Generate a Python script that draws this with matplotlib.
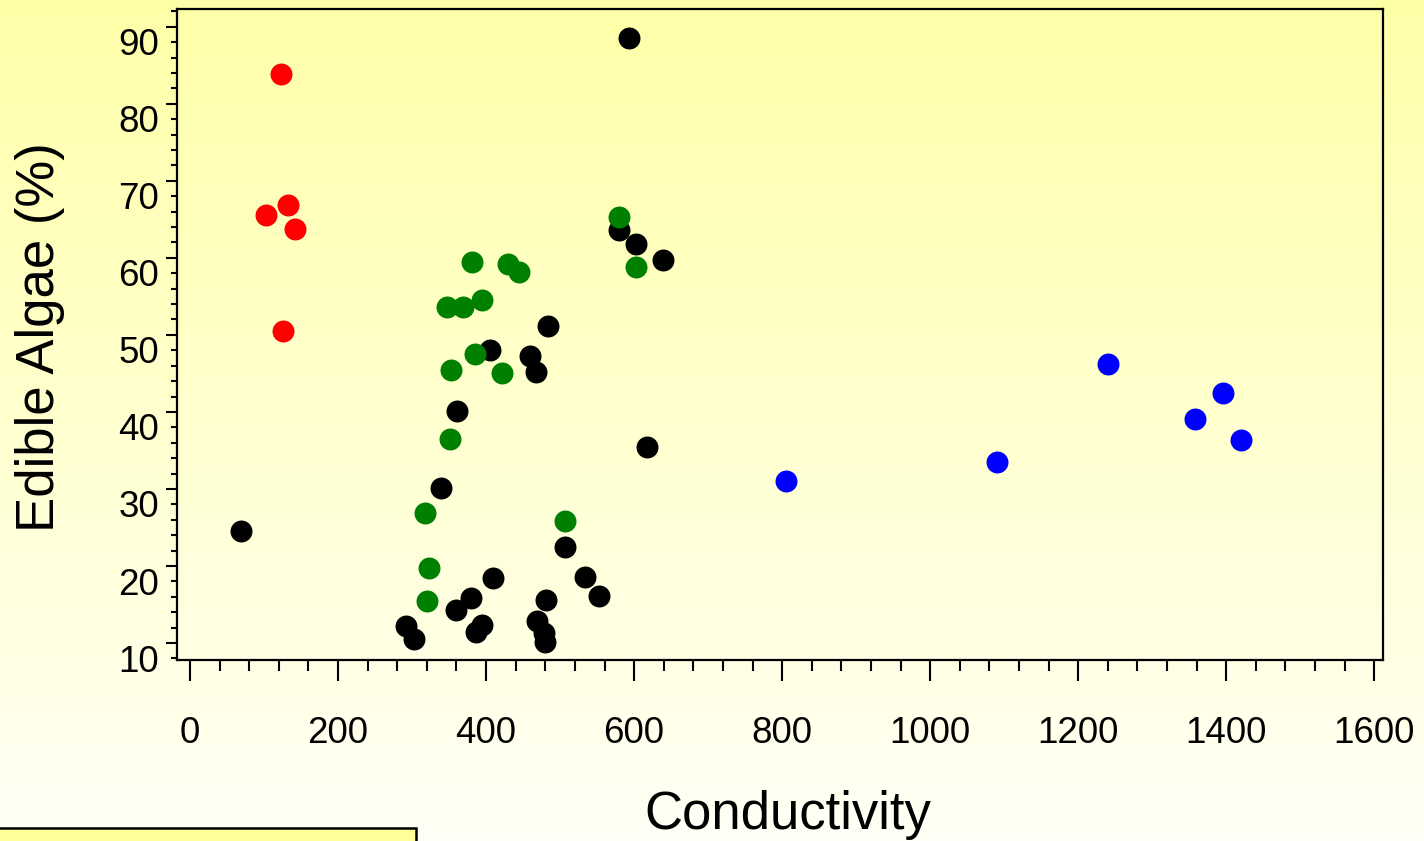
import matplotlib.pyplot as plt
import matplotlib.transforms as mtransforms
import numpy as np
from matplotlib.patches import Rectangle
from matplotlib.ticker import MultipleLocator

plt.rcParams['font.family'] = ['Liberation Sans', 'DejaVu Sans']

# Conductivity vs edible algae, four site groups
black_x = [69, 593, 580, 602, 639, 483, 405, 460, 468, 361, 618, 339, 507,
           409, 534, 553, 380, 359, 481, 469, 478, 479, 394, 387, 292, 303]
black_y = [24.6, 88.6, 63.6, 61.8, 59.7, 51.2, 48.1, 47.2, 45.2, 40.1, 35.4, 30.1, 22.5,
           18.5, 18.6, 16.1, 15.8, 14.3, 15.6, 12.9, 11.3, 10.2, 12.4, 11.5, 12.2, 10.5]

green_x = [381, 429, 444, 394, 347, 369, 385, 353, 422, 351, 318, 507, 323, 320, 579, 602]
green_y = [59.4, 59.2, 58.2, 54.5, 53.6, 53.6, 47.5, 45.4, 45.0, 36.5, 26.9, 25.9, 19.8, 15.5,
           65.3, 58.8]

red_x = [123, 103, 132, 142, 126]
red_y = [83.8, 65.6, 66.9, 63.7, 50.5]

blue_x = [805, 1090, 1240, 1358, 1396, 1420]
blue_y = [31.1, 33.5, 46.2, 39.1, 42.5, 36.3]

fig = plt.figure(figsize=(14.24, 8.41), dpi=100)

# yellow vertical gradient behind everything
bg = fig.add_axes([0, 0, 1, 1], zorder=-1)
grad = np.linspace(0, 1, 256).reshape(-1, 1)
top = np.array([255, 255, 168]) / 255
bot = np.array([255, 255, 246]) / 255
img = top[None, None, :] * (1 - grad[:, :, None]) + bot[None, None, :] * grad[:, :, None]
bg.imshow(img, aspect='auto', extent=[0, 1, 0, 1])
bg.axis('off')

ax = fig.add_axes([0.1243, 0.2152, 0.8469, 0.7741])
ax.patch.set_alpha(0)

ms = 250
ax.scatter(black_x, black_y, s=ms, c='black', linewidths=0, zorder=3)
ax.scatter(green_x, green_y, s=ms, c='#008000', linewidths=0, zorder=4)
ax.scatter(red_x, red_y, s=ms, c='#ff0000', linewidths=0, zorder=4)
ax.scatter(blue_x, blue_y, s=ms, c='#0000ff', linewidths=0, zorder=4)

ax.set_xlim(-17.6, 1611.8)
ax.set_ylim(7.8, 92.3)

ax.xaxis.set_major_locator(MultipleLocator(200))
ax.xaxis.set_minor_locator(MultipleLocator(40))
ax.yaxis.set_major_locator(MultipleLocator(10))
ax.yaxis.set_minor_locator(MultipleLocator(2))

for sp in ax.spines.values():
    sp.set_linewidth(1.6)

ax.tick_params(axis='x', which='major', length=15, width=1.5, pad=25, labelsize=26.5)
ax.tick_params(axis='x', which='minor', length=8, width=1.5)
ax.tick_params(axis='y', which='major', length=8, width=1.5, pad=5, labelsize=26.5)
ax.tick_params(axis='y', which='minor', length=4, width=1.5)

# y tick labels sit a bit below their ticks in the original
shift = mtransforms.ScaledTranslation(0, -15 / 100, fig.dpi_scale_trans)
for lab in ax.get_yticklabels():
    lab.set_transform(lab.get_transform() + shift)

fig.text(788 / 1424, 1 - 815 / 841, 'Conductivity', fontsize=38,
         ha='center', va='center')
fig.text(40 / 1424, 1 - 337 / 841, 'Edible Algae (%)', fontsize=38,
         rotation=90, ha='center', va='center')

# cut-off caption box at bottom left
fig.patches.append(Rectangle((-0.005, -0.02), 423 / 1424, 0.02 + 13 / 841,
                             transform=fig.transFigure, facecolor='#ffff99',
                             edgecolor='black', linewidth=1.8, zorder=5))

fig.savefig('out.png', dpi=100)
